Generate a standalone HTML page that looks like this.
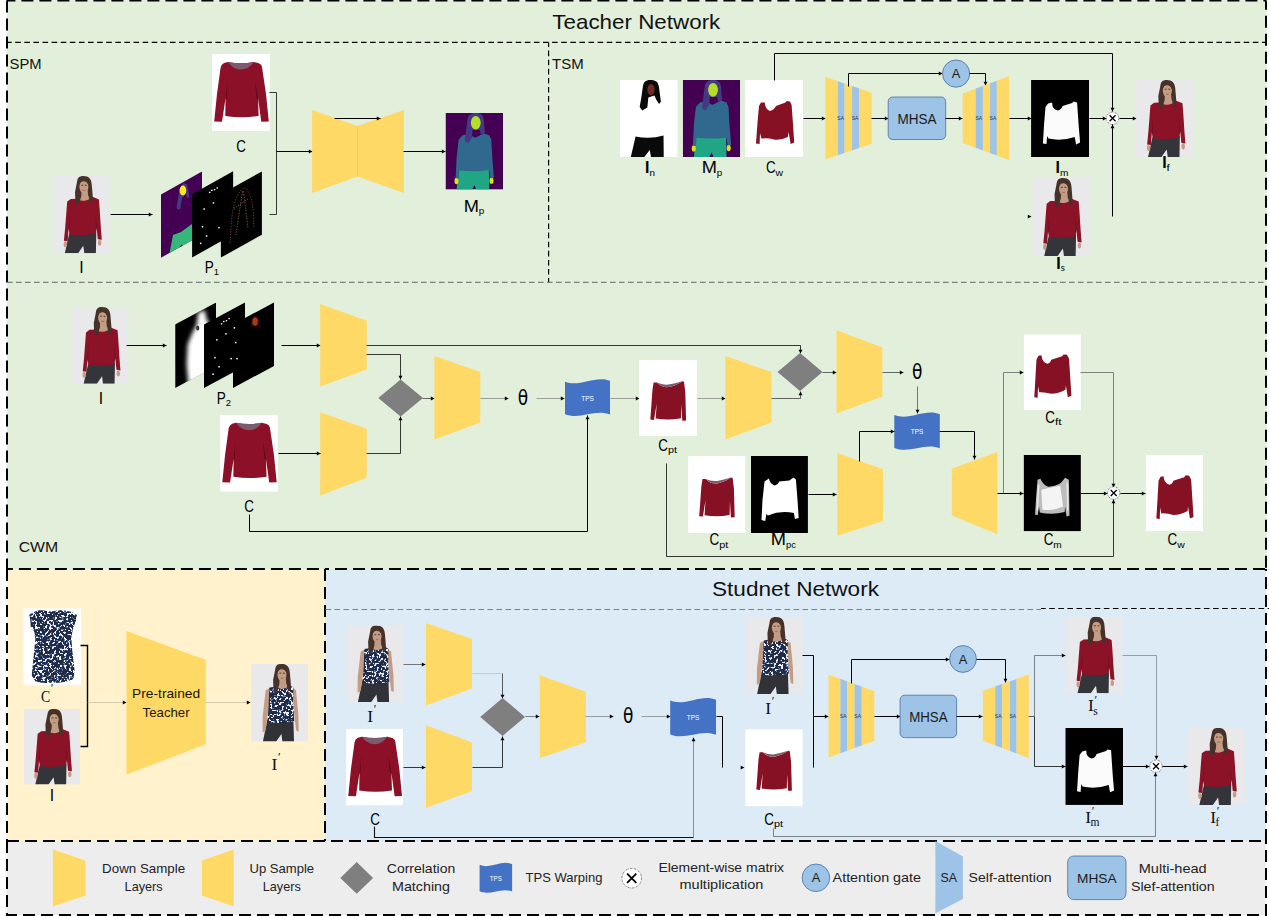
<!DOCTYPE html>
<html lang="en"><head><meta charset="utf-8"><title>Teacher / Student Network</title>
<style>html,body{margin:0;padding:0;background:#fff}body{width:1269px;height:916px;overflow:hidden}svg{display:block}text{white-space:pre}</style>
</head><body>
<svg width="1269" height="916" viewBox="0 0 1269 916">
<defs>
<pattern id="speck" width="6" height="6" patternUnits="userSpaceOnUse">
<rect width="6" height="6" fill="#2a3650"/>
<rect x="0.4" y="0.6" width="1.7" height="1.2" fill="#eef1f7"/>
<rect x="3.2" y="1.8" width="1.3" height="1.5" fill="#8aa5cc"/>
<rect x="1.4" y="3.5" width="1.8" height="1.3" fill="#e6ebf3"/>
<rect x="4.4" y="4.2" width="1.3" height="1.3" fill="#c6d0e3"/>
<rect x="4.6" y="0.2" width="1.1" height="1.1" fill="#6685b5"/>
<rect x="0.1" y="4.9" width="1.1" height="0.9" fill="#9486b0"/>
<rect x="2.6" y="5.2" width="1" height="0.7" fill="#dfe5ef"/>
</pattern>
<filter id="flor" x="0" y="0" width="100%" height="100%" color-interpolation-filters="sRGB">
<feTurbulence type="fractalNoise" baseFrequency="0.42" numOctaves="2" seed="7" result="n"/>
<feColorMatrix in="n" type="matrix" values="1 0 0 0 0  1 0 0 0 0  1 0 0 0 0  0 0 0 0 1" result="g"/>
<feComponentTransfer in="g" result="c">
<feFuncR type="discrete" tableValues="0.13 0.13 0.13 0.13 0.13 0.13 0.13 0.13 0.13 0.13 0.14 0.38 0.93 0.93 0.93 0.93 0.93 0.93 0.93 0.93"/>
<feFuncG type="discrete" tableValues="0.17 0.17 0.17 0.17 0.17 0.17 0.17 0.17 0.17 0.17 0.18 0.48 0.94 0.94 0.94 0.94 0.94 0.94 0.94 0.94"/>
<feFuncB type="discrete" tableValues="0.27 0.27 0.27 0.27 0.27 0.27 0.27 0.27 0.27 0.27 0.28 0.70 0.97 0.97 0.97 0.97 0.97 0.97 0.97 0.97"/>
</feComponentTransfer>
<feComposite in="c" in2="SourceGraphic" operator="in"/>
</filter>
<filter id="blur2" x="-20%" y="-20%" width="140%" height="140%"><feGaussianBlur stdDeviation="2.2"/></filter>
<filter id="blur1" x="-20%" y="-20%" width="140%" height="140%"><feGaussianBlur stdDeviation="0.5"/></filter>

<symbol id="person" viewBox="0 0 57 77" preserveAspectRatio="none">
<rect width="57" height="77" fill="#e9e8ea"/>
<path d="M16.3,57 L43.3,56 L42.9,77 L31.3,77 L30.3,69.5 L25.1,77 L11.8,77 Z" fill="#34353a"/>
<ellipse cx="12.4" cy="68" rx="1.7" ry="3" fill="#c39c84"/>
<ellipse cx="46.6" cy="66.6" rx="1.7" ry="3" fill="#c39c84"/>
<path d="M17.8,22.8 L24.6,22.6 L39.6,20.7 L45.9,23.3 L46.6,32 L47.9,52.4 L48.8,63.6 L44.8,63 L43.6,51 L42.9,57.4 Q30,60.5 16.6,58.2 L15.6,52 L14.7,65 L10.9,64.5 L12.1,52.4 L13.7,31.6 L14.2,25.4 Z" fill="#8c1227"/>
<path d="M15.6,52 L16.6,36 L16.2,58 Z M43.6,51 L42.6,36 L43,57 Z" fill="#6a0c1c"/>
<path d="M24.6,22.9 Q32,27.5 39.6,20.7 L36,19 L27,20 Z" fill="#c39c84"/>
<path d="M30.3,0 C26,0 24.4,2 24,6 L22,16 L22.4,26.5 L24.3,29.6 L26.6,26 L28,21 L34,21 L35.6,20 L36.8,27.4 L39.4,26 L39.8,21 L38.8,9 C38.4,3 36,0 30.3,0 Z" fill="#46322a"/>
<path d="M28.6,14 L34.6,14 L35.4,22 Q32,25.6 28,23.6 Z" fill="#c39c84"/>
<ellipse cx="30.9" cy="10.4" rx="4.5" ry="6.7" fill="#c39c84"/>
<path d="M26,10 C26,4.4 28,2.4 30.6,2.4 C34,2.4 35.7,4.4 35.8,10 C34.6,6.4 32.6,5.2 30.6,5.2 C28.6,5.2 27,6.4 26,10 Z" fill="#46322a"/>
<path d="M28.2,9.3 L30.2,9.1 M31.8,9.1 L33.8,9.3" stroke="#3a2820" stroke-width="0.8"/>
<path d="M29.6,14.2 L32.2,14.2" stroke="#9a5a50" stroke-width="0.8"/>
</symbol>

<symbol id="personF" viewBox="0 0 57 77" preserveAspectRatio="none">
<rect width="57" height="77" fill="#e9e8ea"/>
<path d="M16.3,55 L42.3,55 L42.9,77 L31.3,77 L30.3,69.5 L25.1,77 L11.8,77 Z" fill="#303238"/>
<path d="M14.6,26 L18.5,24 L18,40 L14.5,66 L11.5,68 L11.6,52 Z" fill="#c39c84"/>
<path d="M41.5,24 L44.9,26 L47.2,50 L47.6,67 L45,66 L42.5,44 Z" fill="#c39c84"/>
<path d="M18.2,23.5 L24.6,22.6 L39,21.2 L42.3,23.6 L42,38 L43.2,56.5 Q30,60 16.4,57.4 L17.6,40 Z" fill="#2a3650" filter="url(#flor)"/>
<path d="M24.6,22.9 Q32,27 39,21.2 L36,19 L27,20 Z" fill="#c39c84"/>
<path d="M30.3,0 C26,0 24.4,2 24,6 L22,16 L22.4,26.5 L24.3,29.6 L26.6,26 L28,21 L34,21 L35.6,20 L36.8,27.4 L39.4,26 L39.8,21 L38.8,9 C38.4,3 36,0 30.3,0 Z" fill="#46322a"/>
<path d="M28.6,14 L34.6,14 L35.4,22 Q32,25.6 28,23.6 Z" fill="#c39c84"/>
<ellipse cx="30.9" cy="10.4" rx="4.5" ry="6.7" fill="#c39c84"/>
<path d="M26,10 C26,4.4 28,2.4 30.6,2.4 C34,2.4 35.7,4.4 35.8,10 C34.6,6.4 32.6,5.2 30.6,5.2 C28.6,5.2 27,6.4 26,10 Z" fill="#46322a"/>
<path d="M28.2,9.3 L30.2,9.1 M31.8,9.1 L33.8,9.3" stroke="#3a2820" stroke-width="0.8"/>
<path d="M29.6,14.2 L32.2,14.2" stroke="#9a5a50" stroke-width="0.8"/>
</symbol>

<symbol id="cloth" viewBox="0 0 58 77" preserveAspectRatio="none">
<rect width="58" height="77" fill="#fff"/>
<path d="M16,8 Q29,10.5 41.7,8 L46,9 Q49.5,10 50,13 L54,40 L56.8,67.5 L49.3,67.8 L46,44 L46.6,62 Q30,64.5 13.3,62 L13.6,44 L10,67.8 L2.2,67.5 L5,40 L8.6,13.5 Q9,10.5 12,9 Z" fill="#8c1027"/>
<path d="M16,8 Q29,10.5 41.7,8 Q37,15.5 29,15.5 Q21,15.5 16,8 Z" fill="#7d5a6e"/>
<path d="M13.6,44 L15.5,27 L14.6,45 Z M46,44 L43,27 L44.6,45 Z" fill="#5e0a18"/>
</symbol>

<symbol id="floral" viewBox="0 0 57 77" preserveAspectRatio="none">
<rect width="57" height="77" fill="#fff"/>
<path d="M16.7,1.9 L27,3.2 L38,1.9 L47,3.6 L52.9,6.5 L52,12.5 L49.2,20 L47.4,29.2 L48.3,41.3 L50.6,61.7 L50,69 L48.3,71.5 Q38,75.5 28,74.5 Q18,75.5 12,73 L8.4,67.3 L10.2,48.7 L12,31 L11.1,23.7 L7.4,18 L6.8,11 L6,6.5 L11,3.6 Z" fill="#2a3650" filter="url(#flor)"/>
</symbol>

<symbol id="warp" viewBox="0 0 58 77" preserveAspectRatio="none">
<rect width="58" height="77" fill="#fff"/>
<path d="M19.7,22.5 Q20,29 25,31 Q29,30 31,26 L40.5,22.6 L41.5,21 L45,21.6 L46.6,25 L48,44 L49.2,62.6 L45.6,64 L43.6,52 L42.8,57 Q36,60.5 29,59.5 Q22,57.5 16.4,58.6 L15,53 L14.6,64 L11,63.4 L12.4,44 L14,26 L16,22.6 Z" fill="#861024"/>
</symbol>

<symbol id="warp2" viewBox="0 0 58 77" preserveAspectRatio="none">
<rect width="58" height="77" fill="#fff"/>
<path d="M18,21.5 Q19,29 24,30 Q27,29.5 28,26 L39,22.5 L40.5,20.5 L44,21 L46,25 L47.2,44 L48.4,62.6 L44.8,64 L42.8,52 L42.4,56.5 Q35,60.5 28,60.5 Q21,58.5 15.8,59 L14.6,53 L14.2,64.6 L10.8,64 L12,44 L13,26 L15,22 Z" fill="#861024"/>
</symbol>

<symbol id="warpS" viewBox="0 0 58 77" preserveAspectRatio="none">
<rect width="58" height="77" fill="#fff"/>
<path d="M14.5,23 L17.7,23 Q23,28.4 29.4,27.4 Q37,26 43.2,21.5 L44.9,22 L46.2,32.6 L47,61.3 L43.2,61.4 L42.2,45 L41.9,59 Q29,61.4 16.6,59.2 L17.6,44 L14.9,60.6 L11.2,60.2 L12.4,44 L13.4,30 Z" fill="#861024"/>
<path d="M17.7,23 Q23,28.4 29.4,27.4 Q37,26 43.2,21.5 Q36,23.6 29.4,25 Q23,25.6 17.7,23 Z" fill="#7d5a6e"/>
</symbol>

<symbol id="mask" viewBox="0 0 58 77" preserveAspectRatio="none">
<rect width="58" height="77" fill="#000"/>
<path d="M17,23.5 L21,22.6 Q21,29.5 26.5,30.6 Q30.5,29.5 31.5,26 L41,23 L42.5,21.5 L46,22.4 L47.6,46 L49,62.6 L45,64.4 L43.6,57 Q30,61.5 17.4,58.6 L16,56 L15.4,64 L11.8,63.4 L13,44 L14.4,27 Z" fill="#fbfbfb"/>
</symbol>

<symbol id="maskS" viewBox="0 0 57 77" preserveAspectRatio="none">
<rect width="57" height="77" fill="#000"/>
<path d="M13.6,25.5 L18,22.4 Q19,28 24,29.4 Q27.5,28.4 28.4,25.4 L38.5,24.4 L42.6,21.6 L45,23.6 L46.6,44 L47.8,62 L44,63 L43,57 Q30,54 17,59.4 L15.4,58 L14.4,65 L10.6,64 L11.6,44 Z" fill="#fff"/>
</symbol>

<symbol id="cm" viewBox="0 0 58 77" preserveAspectRatio="none">
<rect width="58" height="77" fill="#000"/>
<path d="M14.1,25 L17,24 Q20,30.6 25,32 Q33,31.6 38,28 L42,23 L45.8,25 L46.2,45 L46.4,61.4 L43.4,62 L42,52 L41.6,57.6 Q29,60.6 16.4,58 L15.6,52 L14.4,60.6 L11.6,60.2 L12.6,44 Z" fill="#bdbdbd"/>
<path d="M18,35 L24,33.6 L37,31 L40,52 Q29,57 19,55 Z" fill="#f4f4f4"/>
<path d="M14.4,30 L16,30 L14.6,56 L13,56 Z M43.4,28 L45,28 L45.4,56 L44,56 Z" fill="#e8e8e8"/>
</symbol>

<symbol id="seg" viewBox="0 0 57 77" preserveAspectRatio="none">
<rect width="57" height="77" fill="#440154"/>
<path d="M13,57 L43,57 L43.4,77 L30.4,77 L28.6,72.6 L26.4,77 L11,77 Z" fill="#21a685"/>
<ellipse cx="10.9" cy="68.4" rx="2" ry="3.2" fill="#dde318"/>
<ellipse cx="45.6" cy="68" rx="2" ry="3.2" fill="#dde318"/>
<path d="M17,22.4 L24,21 L29,25 L38,20.6 L43.4,22.4 L45.4,27 L46.4,45 L48,65 L44.6,65.6 L43.2,57.4 Q30,59.6 13.6,57.8 L13.2,66 L10,65.4 L11,45 L13,27 Z" fill="#31688e"/>
<path d="M30,0 C25,0 22,2 21.6,8 L20,20 L19,28 L22.6,30.4 L26.5,24 L27,17 L34,17 L34.8,21.6 L39,20.4 L38,7 C37.4,2 35,0 30,0 Z" fill="#443a83"/>
<path d="M27,17 L34,17 L34.8,21.8 L29.4,24.6 L26.6,22 Z" fill="#440154"/>
<ellipse cx="30" cy="9.8" rx="4.9" ry="6.9" fill="#b5de2b"/>
</symbol>

<symbol id="inimg" viewBox="0 0 57 77" preserveAspectRatio="none">
<rect width="57" height="77" fill="#fff"/>
<path d="M15.4,56.4 Q29,59.6 43,55.6 L43.2,77 L30.6,77 L29.4,70 L24,77 L10.7,77 Z" fill="#0a0a0a"/>
<path d="M30,0 C25,0 23,2 22.4,8 L21,18 L19.4,27 L22,30.4 L27,27.6 L28,17.6 L34,15.6 L36,20 L38.6,24 L40.4,21.6 L38.6,8 C38,2 35.6,0 30,0 Z" fill="#0a0a0a"/>
<ellipse cx="30.6" cy="9.6" rx="3.6" ry="5.6" fill="#6e2c22"/>
</symbol>

<!-- P1 stack : parallelogram 41 wide, left edge 22.9 lower than right, height 63.3 -->
<symbol id="p1a" viewBox="0 0 41 87" width="41" height="87" overflow="visible">
<clipPath id="cp1"><polygon points="0,22.9 41,0 41,63.3 0,86.2"/></clipPath>
<g clip-path="url(#cp1)">
<rect width="41" height="87" fill="#440154"/>
<path d="M12,63.4 L20,60.5 L31,52.4 L41,46 L41,70 L8.7,88 L8.7,80.8 Z" fill="#35b779"/>
<path d="M17.6,78.5 L20.6,72.4 L21.4,77 Z" fill="#2a0a3a"/>
<path d="M18.6,18 L22.4,11.6 L26,13 L28.4,26 L26.4,26.4 L25,22 L21,27 L19.4,37 L16.4,38.6 L15.6,35 Z" fill="#443a83"/>
<ellipse cx="21.9" cy="19" rx="3.3" ry="5" fill="#fde725"/>
</g>
</symbol>
<symbol id="p1b" viewBox="0 0 41 87" width="41" height="87" overflow="visible">
<polygon points="0,22.9 41,0 41,63.3 0,86.2" fill="#000"/>
<g fill="#fff">
<rect x="16.8" y="20.4" width="1.5" height="1.3"/><rect x="19" y="18.4" width="1.5" height="1.3"/><rect x="21.7" y="17.7" width="1.5" height="1.3"/><rect x="24.4" y="16" width="1.5" height="1.3"/>
<rect x="20.6" y="30.9" width="1.5" height="1.5"/><rect x="11.3" y="37" width="1.5" height="1.5"/>
<rect x="9.7" y="54.7" width="1.5" height="1.5"/><rect x="26.1" y="55.6" width="1.5" height="1.5"/>
<rect x="13.7" y="64" width="1.5" height="1.5"/><rect x="7.8" y="71.3" width="1.5" height="1.5"/>
</g>
</symbol>
<symbol id="p1c" viewBox="0 0 41 87" width="41" height="87" overflow="visible">
<polygon points="0,22.9 41,0 41,63.3 0,86.2" fill="#000"/>
<path d="M9,71.8 L11,45 Q14,22 23.7,16 Q31,22 32.4,40 L33,56.5" stroke="#9a4a5a" stroke-width="0.8" fill="none" stroke-dasharray="1.2 1.5"/>
<path d="M21.6,20 L15,63.6 M22.6,20 L27,55.9" stroke="#b0705a" stroke-width="0.8" fill="none" stroke-dasharray="1.2 1.5"/>
<path d="M12.8,37.4 L27,27.5" stroke="#8a8a4a" stroke-width="0.8" fill="none" stroke-dasharray="1.2 1.5"/>
</symbol>

<!-- P2 stack : 41 wide, slant 22.1, height 63.5 -->
<symbol id="p2a" viewBox="0 0 41 87" width="41" height="87" overflow="visible">
<clipPath id="cp2"><polygon points="0,22.1 41,0 41,63.5 0,85.6"/></clipPath>
<g clip-path="url(#cp2)">
<rect width="41" height="87" fill="#000"/>
<path d="M23,10 L29.6,7.6 L31.6,17 L37,26 L41,30 L41,90 L14,90 L11.5,62 L12.5,42 L17,31 L21.6,22 Z" fill="#fff" filter="url(#blur2)"/>
<path d="M18,38 L41,38 L41,80 L16,80 Z" fill="#fff" filter="url(#blur1)"/>
<ellipse cx="22.6" cy="25.6" rx="1.6" ry="2.6" fill="#333" filter="url(#blur1)"/>
</g>
</symbol>
<symbol id="p2b" viewBox="0 0 41 87" width="41" height="87" overflow="visible">
<polygon points="0,22.1 41,0 41,63.5 0,85.6" fill="#000"/>
<g fill="#fff">
<rect x="16.8" y="20.8" width="1.5" height="1.3"/><rect x="19" y="18.5" width="1.5" height="1.3"/><rect x="21.7" y="17.7" width="1.5" height="1.3"/><rect x="24.4" y="15.5" width="1.5" height="1.3"/>
<rect x="29.6" y="24.7" width="1.5" height="1.5"/><rect x="21.2" y="30.7" width="1.5" height="1.5"/><rect x="12.1" y="36.7" width="1.5" height="1.5"/><rect x="31" y="39.4" width="1.5" height="1.5"/>
<rect x="10.2" y="54.5" width="1.5" height="1.5"/><rect x="26.4" y="55.5" width="1.5" height="1.5"/><rect x="32.3" y="55.5" width="1.5" height="1.5"/>
<rect x="14.3" y="63.6" width="1.5" height="1.5"/><rect x="8.3" y="71.1" width="1.5" height="1.5"/>
</g>
</symbol>
<symbol id="p2c" viewBox="0 0 41 87" width="41" height="87" overflow="visible">
<polygon points="0,22.1 41,0 41,63.5 0,85.6" fill="#000"/>
<path d="M17.6,26 Q18,13.6 22.4,13.4 Q26.6,13.6 27.4,27 L25,24 L19.6,24 Z" fill="#2a0a05" filter="url(#blur1)"/>
<ellipse cx="22.1" cy="19.3" rx="2.7" ry="4.1" fill="#a83a18" filter="url(#blur1)"/>
<g fill="#fff"><rect x="0.6" y="24.7" width="1.5" height="1.5"/><rect x="2" y="39.4" width="1.5" height="1.5"/><rect x="3.3" y="55.5" width="1.5" height="1.5"/></g>
</symbol>

</defs>
<rect x="0" y="0" width="1269" height="916" fill="#fff"/>
<rect x="7" y="0" width="1259.6" height="569" fill="#E2EFDA"/>
<rect x="7" y="569" width="318" height="272" fill="#FFF2CC"/>
<rect x="325" y="569" width="941" height="272" fill="#DDEBF7"/>
<rect x="7" y="841" width="1259" height="74" fill="#EDEDED"/>
<path d="M1266,0.6 L7,0.6" stroke-dashoffset="9.4" stroke="#000" stroke-width="2" fill="none" stroke-dasharray="12 6"/>
<path d="M7,0.6 L7,569" stroke="#000" stroke-width="2" fill="none" stroke-dasharray="12 6"/>
<path d="M1266,0.6 L1266,569" stroke-dashoffset="2.8" stroke="#000" stroke-width="2" fill="none" stroke-dasharray="12 6"/>
<path d="M7,569 L325,569" stroke-dashoffset="6.1" stroke="#000" stroke-width="2" fill="none" stroke-dasharray="12 6"/>
<path d="M325,569 L1266,569" stroke-dashoffset="8" stroke="#000" stroke-width="2" fill="none" stroke-dasharray="12 6"/>
<path d="M7,569 L7,841" stroke="#000" stroke-width="2" fill="none" stroke-dasharray="12 6"/>
<path d="M325,569 L325,841" stroke="#000" stroke-width="2" fill="none" stroke-dasharray="12 6"/>
<path d="M1266,569 L1266,841" stroke-dashoffset="10" stroke="#000" stroke-width="2" fill="none" stroke-dasharray="12 6"/>
<path d="M7,841 L1266,841" stroke="#000" stroke-width="2" fill="none" stroke-dasharray="12 6"/>
<path d="M7,841 L7,915 L1266,915 L1266,841" stroke="#000" stroke-width="2" fill="none" stroke-dasharray="12 6"/>
<path d="M7,42.4 L1266,42.4" stroke="#000" stroke-width="1.2" fill="none" stroke-dasharray="5.6 3.5" stroke-dashoffset="0.9"/>
<path d="M548.6,42.4 L548.6,282.4" stroke="#000" stroke-width="1.2" fill="none" stroke-dasharray="5.6 3.5" stroke-dashoffset="0.9"/>
<path d="M7,282.4 L1266,282.4" stroke="#7f7f7f" stroke-width="1.1" fill="none" stroke-dasharray="5.6 3.4"/>
<path d="M325.5,609.5 L1041,609.5" stroke="#7f7f7f" stroke-width="1.1" fill="none" stroke-dasharray="5.6 3.4"/>
<path d="M1041,608.5 L1269,608.5" stroke="#000" stroke-width="1.2" fill="none" stroke-dasharray="5.6 3.5" stroke-dashoffset="0.9"/>
<text x="636.3" y="29.3" font-size="20.9" text-anchor="middle" font-family='"Liberation Sans", "DejaVu Sans", sans-serif' fill="#111" textLength="168" lengthAdjust="spacingAndGlyphs" >Teacher Network</text>
<text x="795.5" y="596.4" font-size="20.9" text-anchor="middle" font-family='"Liberation Sans", "DejaVu Sans", sans-serif' fill="#111" textLength="167" lengthAdjust="spacingAndGlyphs" >Studnet Network</text>
<text x="9.6" y="68.6" font-size="14.8" text-anchor="start" font-family='"Liberation Sans", "DejaVu Sans", sans-serif' fill="#111" textLength="32" lengthAdjust="spacingAndGlyphs" >SPM</text>
<text x="552" y="68.6" font-size="14.8" text-anchor="start" font-family='"Liberation Sans", "DejaVu Sans", sans-serif' fill="#111" textLength="31.6" lengthAdjust="spacingAndGlyphs" >TSM</text>
<text x="18.7" y="552.3" font-size="14.8" text-anchor="start" font-family='"Liberation Sans", "DejaVu Sans", sans-serif' fill="#111" textLength="39.5" lengthAdjust="spacingAndGlyphs" >CWM</text>
<use href="#cloth" x="212" y="54" width="58" height="77"/>
<text x="236.15" y="151.8" font-size="16" font-family='"Liberation Sans", "DejaVu Sans", sans-serif' fill="#000" textLength="9.7" lengthAdjust="spacingAndGlyphs">C</text>
<use href="#person" x="53" y="176" width="57" height="77.3"/>
<text x="79.3" y="272.9" font-size="16" font-family='"Liberation Sans", "DejaVu Sans", sans-serif' fill="#000" textLength="4.4" lengthAdjust="spacingAndGlyphs">I</text>
<use href="#p1a" x="161" y="171.5"/>
<use href="#p1b" x="192.1" y="171.3"/>
<use href="#p1c" x="220.9" y="171.4"/>
<text x="204.85" y="272.9" font-size="16" font-family='"Liberation Sans", "DejaVu Sans", sans-serif' fill="#000" textLength="9" lengthAdjust="spacingAndGlyphs">P</text>
<text x="213.85" y="275.4" font-size="9.8" font-family='"Liberation Sans", "DejaVu Sans", sans-serif' fill="#000" textLength="5.3" lengthAdjust="spacingAndGlyphs">1</text>
<polyline points="110.5,214.5 152.5,214.5" fill="none" stroke="#000" stroke-width="1"/>
<polygon points="152.5,214.5 148.8,212.55 148.8,216.45" fill="#000" />
<polyline points="269.5,92.5 276.5,92.5 276.5,214.5 269.5,214.5" fill="none" stroke="#222" stroke-width="0.9"/>
<polyline points="276.5,151.5 312.5,151.5" fill="none" stroke="#000" stroke-width="1"/>
<polygon points="312.5,151.5 308.8,149.55 308.8,153.45" fill="#000" />
<polygon points="312.1,110 357.5,126 357.5,176.5 312.1,193" fill="#FFD966" />
<polygon points="357.5,126 403.9,110 403.9,193 357.5,176.5" fill="#FFD966" />
<line x1="357.5" y1="126" x2="357.5" y2="176.5" stroke="#d8c27a" stroke-width="0.6"/>
<polyline points="334.5,118.5 380.5,118.5" fill="none" stroke="#000" stroke-width="1"/>
<polygon points="380.5,118.5 376.8,116.55 376.8,120.45" fill="#000" />
<polyline points="403.5,151.5 445.5,151.5" fill="none" stroke="#000" stroke-width="1"/>
<polygon points="445.5,151.5 441.8,149.55 441.8,153.45" fill="#000" />
<use href="#seg" x="445.5" y="113" width="57.5" height="76.6"/>
<text x="463.65" y="211.8" font-size="16" font-family='"Liberation Sans", "DejaVu Sans", sans-serif' fill="#000" textLength="15.2" lengthAdjust="spacingAndGlyphs">M</text>
<text x="478.85" y="214.3" font-size="9.8" font-family='"Liberation Sans", "DejaVu Sans", sans-serif' fill="#000" textLength="5.5" lengthAdjust="spacingAndGlyphs">p</text>
<use href="#inimg" x="620" y="80" width="57.7" height="77"/>
<use href="#seg" x="682.8" y="80" width="57.4" height="77"/>
<use href="#warp" x="745" y="80" width="58" height="77"/>
<text x="645.05" y="173.3" font-size="16" font-family='"Liberation Sans", "DejaVu Sans", sans-serif' fill="#000" font-weight="bold" textLength="4.4" lengthAdjust="spacingAndGlyphs">I</text>
<text x="649.45" y="175.8" font-size="9.8" font-family='"Liberation Sans", "DejaVu Sans", sans-serif' fill="#000" textLength="5.5" lengthAdjust="spacingAndGlyphs">n</text>
<text x="701.65" y="173.3" font-size="16" font-family='"Liberation Sans", "DejaVu Sans", sans-serif' fill="#000" textLength="15.2" lengthAdjust="spacingAndGlyphs">M</text>
<text x="716.85" y="175.8" font-size="9.8" font-family='"Liberation Sans", "DejaVu Sans", sans-serif' fill="#000" textLength="5.5" lengthAdjust="spacingAndGlyphs">p</text>
<text x="765.9" y="173.3" font-size="16" font-family='"Liberation Sans", "DejaVu Sans", sans-serif' fill="#000" textLength="9.7" lengthAdjust="spacingAndGlyphs">C</text>
<text x="775.6" y="175.8" font-size="9.8" font-family='"Liberation Sans", "DejaVu Sans", sans-serif' fill="#000" textLength="7.5" lengthAdjust="spacingAndGlyphs">w</text>
<polyline points="774.5,80.5 774.5,53.5 1112.5,53.5 1112.5,111.5" fill="none" stroke="#000" stroke-width="1"/>
<polygon points="1112.5,111.5 1110.55,107.8 1114.45,107.8" fill="#000" />
<polyline points="803.5,118.5 825.5,118.5" fill="none" stroke="#000" stroke-width="1"/>
<polygon points="825.5,118.5 821.8,116.55 821.8,120.45" fill="#000" />
<clipPath id="c1"><polygon points="825.2,77 871.8,92.8 871.8,143.7 825.2,159.6"/></clipPath>
<g clip-path="url(#c1)">
<rect x="825.2" y="76" width="12.6" height="84.6" fill="#FFD966"/>
<rect x="837.8" y="76" width="6.8" height="84.6" fill="#9DC3E6"/>
<rect x="844.6" y="76" width="7.5" height="84.6" fill="#FFD966"/>
<rect x="852.1" y="76" width="6.9" height="84.6" fill="#9DC3E6"/>
<rect x="859" y="76" width="12.8" height="84.6" fill="#FFD966"/>
</g>
<text x="840.7" y="120.28" font-size="5" text-anchor="middle" font-family='"Liberation Sans", "DejaVu Sans", sans-serif' fill="#333" >SA</text>
<text x="855.05" y="120.28" font-size="5" text-anchor="middle" font-family='"Liberation Sans", "DejaVu Sans", sans-serif' fill="#333" >SA</text>
<polyline points="848.5,86.5 848.5,73.5 942.5,73.5" fill="none" stroke="#000" stroke-width="1"/>
<polygon points="942.5,73.5 938.8,71.55 938.8,75.45" fill="#000" />
<circle cx="956.1" cy="73.6" r="13.6" fill="#9DC3E6" stroke="#4a6fa0" stroke-width="0.8"/>
<text x="956.1" y="78.21" font-size="12.8" text-anchor="middle" font-family='"Liberation Sans", "DejaVu Sans", sans-serif' fill="#1a1a1a" >A</text>
<polyline points="969.5,73.5 985.5,73.5 985.5,85.5" fill="none" stroke="#000" stroke-width="1"/>
<polygon points="985.5,85.5 983.55,81.8 987.45,81.8" fill="#000" />
<polyline points="871.5,118.5 888.5,118.5" fill="none" stroke="#000" stroke-width="1"/>
<polygon points="888.5,118.5 884.8,116.55 884.8,120.45" fill="#000" />
<rect x="888.2" y="97" width="57.5" height="42.5" rx="4.5" fill="#9DC3E6" stroke="#4a6fa0" stroke-width="0.8"/>
<text x="916.95" y="123.83" font-size="15.5" text-anchor="middle" font-family='"Liberation Sans", "DejaVu Sans", sans-serif' fill="#1a1a1a" textLength="39.1" lengthAdjust="spacingAndGlyphs" >MHSA</text>
<polyline points="945.5,118.5 962.5,118.5" fill="none" stroke="#000" stroke-width="1"/>
<polygon points="962.5,118.5 958.8,116.55 958.8,120.45" fill="#000" />
<clipPath id="c2"><polygon points="962.5,93.6 1009,76.2 1009,160 962.5,143"/></clipPath>
<g clip-path="url(#c2)">
<rect x="962.5" y="75.2" width="13.1" height="85.8" fill="#FFD966"/>
<rect x="975.6" y="75.2" width="7.3" height="85.8" fill="#9DC3E6"/>
<rect x="982.9" y="75.2" width="7.2" height="85.8" fill="#FFD966"/>
<rect x="990.1" y="75.2" width="6.7" height="85.8" fill="#9DC3E6"/>
<rect x="996.8" y="75.2" width="12.2" height="85.8" fill="#FFD966"/>
</g>
<text x="978.75" y="120.2" font-size="5" text-anchor="middle" font-family='"Liberation Sans", "DejaVu Sans", sans-serif' fill="#333" >SA</text>
<text x="992.95" y="120.2" font-size="5" text-anchor="middle" font-family='"Liberation Sans", "DejaVu Sans", sans-serif' fill="#333" >SA</text>
<polyline points="1009.5,118.5 1031.5,118.5" fill="none" stroke="#000" stroke-width="1"/>
<polygon points="1031.5,118.5 1027.8,116.55 1027.8,120.45" fill="#000" />
<use href="#mask" x="1031.1" y="80" width="58" height="77"/>
<polyline points="1089.5,118.5 1106.5,118.5" fill="none" stroke="#000" stroke-width="1"/>
<polygon points="1106.5,118.5 1102.8,116.55 1102.8,120.45" fill="#000" />
<circle cx="1112.6" cy="118.3" r="6.2" fill="#fff" stroke="#333" stroke-width="0.6" stroke-dasharray="2 0.9 0.6 0.9"/>
<path d="M1109.6,115.3 L1115.6,121.3 M1109.6,121.3 L1115.6,115.3" stroke="#000" stroke-width="1.3" fill="none"/>
<polyline points="1119.5,118.5 1136.5,118.5" fill="none" stroke="#000" stroke-width="1"/>
<polygon points="1136.5,118.5 1132.8,116.55 1132.8,120.45" fill="#000" />
<use href="#person" x="1136.1" y="80" width="57.6" height="77"/>
<polyline points="1112.5,216.5 1112.5,124.5" fill="none" stroke="#000" stroke-width="1"/>
<polygon points="1112.5,124.5 1110.55,128.2 1114.45,128.2" fill="#000" />
<polygon points="1031.5,216.6 1027.8,214.65 1027.8,218.55" fill="#000" />
<use href="#person" x="1032.3" y="178" width="57.6" height="78"/>
<text x="1055.6" y="173.2" font-size="16" font-family='"Liberation Sans", "DejaVu Sans", sans-serif' fill="#000" font-weight="bold" textLength="4.4" lengthAdjust="spacingAndGlyphs">I</text>
<text x="1060" y="175.7" font-size="9.8" font-family='"Liberation Sans", "DejaVu Sans", sans-serif' fill="#000" textLength="8.4" lengthAdjust="spacingAndGlyphs">m</text>
<text x="1162.2" y="168.4" font-size="16" font-family='"Liberation Sans", "DejaVu Sans", sans-serif' fill="#000" font-weight="bold" textLength="4.4" lengthAdjust="spacingAndGlyphs">I</text>
<text x="1166.6" y="170.9" font-size="9.8" font-family='"Liberation Sans", "DejaVu Sans", sans-serif' fill="#000" textLength="3.2" lengthAdjust="spacingAndGlyphs">f</text>
<text x="1056.35" y="268.5" font-size="16" font-family='"Liberation Sans", "DejaVu Sans", sans-serif' fill="#000" font-weight="bold" textLength="4.4" lengthAdjust="spacingAndGlyphs">I</text>
<text x="1060.75" y="271" font-size="9.8" font-family='"Liberation Sans", "DejaVu Sans", sans-serif' fill="#000" textLength="4.1" lengthAdjust="spacingAndGlyphs">s</text>
<use href="#person" x="71.9" y="307.1" width="56.7" height="76.7"/>
<text x="98.7" y="404" font-size="16" font-family='"Liberation Sans", "DejaVu Sans", sans-serif' fill="#000" textLength="4.4" lengthAdjust="spacingAndGlyphs">I</text>
<polyline points="126.5,345.5 166.5,345.5" fill="none" stroke="#000" stroke-width="1"/>
<polygon points="166.5,345.5 162.8,343.55 162.8,347.45" fill="#000" />
<use href="#p2a" x="175.1" y="302.4"/>
<use href="#p2b" x="204" y="302.4"/>
<use href="#p2c" x="233" y="302.4"/>
<text x="216.85" y="403.8" font-size="16" font-family='"Liberation Sans", "DejaVu Sans", sans-serif' fill="#000" textLength="9" lengthAdjust="spacingAndGlyphs">P</text>
<text x="225.85" y="406.3" font-size="9.8" font-family='"Liberation Sans", "DejaVu Sans", sans-serif' fill="#000" textLength="5.3" lengthAdjust="spacingAndGlyphs">2</text>
<polyline points="281.5,345.5 320.5,345.5" fill="none" stroke="#000" stroke-width="1"/>
<polygon points="320.5,345.5 316.8,343.55 316.8,347.45" fill="#000" />
<polygon points="320.2,303.9 366.8,320.8 366.8,369.4 320.2,386.6" fill="#FFD966" />
<polygon points="320.2,412.3 366.8,428.7 366.8,477.8 320.2,495.5" fill="#FFD966" />
<use href="#cloth" x="220.1" y="414.8" width="57.8" height="77"/>
<text x="244.15" y="511.7" font-size="16" font-family='"Liberation Sans", "DejaVu Sans", sans-serif' fill="#000" textLength="9.7" lengthAdjust="spacingAndGlyphs">C</text>
<polyline points="278.5,453.5 320.5,453.5" fill="none" stroke="#000" stroke-width="1"/>
<polygon points="320.5,453.5 316.8,451.55 316.8,455.45" fill="#000" />
<polyline points="366.5,345.5 800.5,345.5 800.5,353.5" fill="none" stroke="#222" stroke-width="0.9"/>
<polygon points="800.5,353.5 798.55,349.8 802.45,349.8" fill="#000" />
<polyline points="366.5,354.5 400.5,354.5 400.5,379.5" fill="none" stroke="#222" stroke-width="0.9"/>
<polygon points="400.5,379.5 398.55,375.8 402.45,375.8" fill="#000" />
<polyline points="366.5,453.5 400.5,453.5 400.5,416.5" fill="none" stroke="#222" stroke-width="0.9"/>
<polygon points="400.5,416.5 398.55,420.2 402.45,420.2" fill="#000" />
<polygon points="378.3,398 400.6,379.4 422.9,398 400.6,416.6" fill="#7F7F7F" />
<polyline points="422.5,398.5 434.5,398.5" fill="none" stroke="#444" stroke-width="0.8"/>
<polygon points="434.5,398.5 430.8,396.55 430.8,400.45" fill="#000" />
<polygon points="434.4,356 480.3,372 480.3,422.4 434.4,439.5" fill="#FFD966" />
<polyline points="480.5,398.5 508.5,398.5" fill="none" stroke="#6a6a6a" stroke-width="0.6"/>
<polygon points="508.5,398.5 504.8,396.55 504.8,400.45" fill="#000" />
<text x="517.7" y="404.8" font-size="21" font-family='"DejaVu Sans", "Liberation Sans", sans-serif' fill="#000" textLength="10.4" lengthAdjust="spacingAndGlyphs">θ</text>
<polyline points="536.5,398.5 564.5,398.5" fill="none" stroke="#6a6a6a" stroke-width="0.6"/>
<polygon points="564.5,398.5 560.8,396.55 560.8,400.45" fill="#000" />
<path d="M565,381.7 C580,387.7 595,374.8 610,380.8 L610,414.5 C595,408.5 580,420.2 565,414.2 Z" fill="#4472C4"/>
<text x="587.5" y="400.73" font-size="8" text-anchor="middle" font-family='"Liberation Sans", "DejaVu Sans", sans-serif' fill="#fff" textLength="12.6" lengthAdjust="spacingAndGlyphs" >TPS</text>
<polyline points="249.5,514.5 249.5,531.5 587.5,531.5 587.5,415.5" fill="none" stroke="#000" stroke-width="1"/>
<polygon points="587.5,415.5 585.55,419.2 589.45,419.2" fill="#000" />
<polyline points="610.5,398.5 639.5,398.5" fill="none" stroke="#6a6a6a" stroke-width="0.6"/>
<polygon points="639.5,398.5 635.8,396.55 635.8,400.45" fill="#000" />
<use href="#warpS" x="639.1" y="359.8" width="58" height="76.4"/>
<text x="658.25" y="450.7" font-size="16" font-family='"Liberation Sans", "DejaVu Sans", sans-serif' fill="#000" textLength="9.7" lengthAdjust="spacingAndGlyphs">C</text>
<text x="667.95" y="453.2" font-size="9.8" font-family='"Liberation Sans", "DejaVu Sans", sans-serif' fill="#000" textLength="9" lengthAdjust="spacingAndGlyphs">pt</text>
<polyline points="697.5,398.5 725.5,398.5" fill="none" stroke="#6a6a6a" stroke-width="0.6"/>
<polygon points="725.5,398.5 721.8,396.55 721.8,400.45" fill="#000" />
<polygon points="725.3,356 771.5,372 771.5,422.4 725.3,439.5" fill="#FFD966" />
<polyline points="771.5,398.5 800.5,398.5 800.5,391.5" fill="none" stroke="#444" stroke-width="0.8"/>
<polygon points="800.5,391.5 798.55,395.2 802.45,395.2" fill="#000" />
<polygon points="777.5,372 800,353 822.5,372 800,391" fill="#7F7F7F" />
<polyline points="822.5,372.5 836.5,372.5" fill="none" stroke="#444" stroke-width="0.8"/>
<polygon points="836.5,372.5 832.8,370.55 832.8,374.45" fill="#000" />
<polygon points="836.5,330.3 882.4,347.5 882.4,396.4 836.5,413.6" fill="#FFD966" />
<polyline points="882.5,372.5 903.5,372.5" fill="none" stroke="#444" stroke-width="0.8"/>
<polygon points="903.5,372.5 899.8,370.55 899.8,374.45" fill="#000" />
<text x="912.1" y="378.6" font-size="21" font-family='"DejaVu Sans", "Liberation Sans", sans-serif' fill="#000" textLength="10.4" lengthAdjust="spacingAndGlyphs">θ</text>
<polyline points="917.5,386.5 917.5,413.5" fill="none" stroke="#444" stroke-width="0.7"/>
<polygon points="917.5,413.5 915.55,409.8 919.45,409.8" fill="#000" />
<path d="M894.3,415.04 C909.47,421.14 924.63,408.03 939.8,414.13 L939.8,448.37 C924.63,442.27 909.47,454.16 894.3,448.06 Z" fill="#4472C4"/>
<text x="917.05" y="434.33" font-size="8" text-anchor="middle" font-family='"Liberation Sans", "DejaVu Sans", sans-serif' fill="#fff" textLength="12.6" lengthAdjust="spacingAndGlyphs" >TPS</text>
<use href="#warpS" x="688.1" y="456" width="57.5" height="77"/>
<use href="#maskS" x="750.9" y="456" width="57" height="77"/>
<text x="709.45" y="545" font-size="16" font-family='"Liberation Sans", "DejaVu Sans", sans-serif' fill="#000" textLength="9.7" lengthAdjust="spacingAndGlyphs">C</text>
<text x="719.15" y="547.5" font-size="9.8" font-family='"Liberation Sans", "DejaVu Sans", sans-serif' fill="#000" textLength="9" lengthAdjust="spacingAndGlyphs">pt</text>
<text x="770.85" y="545" font-size="16" font-family='"Liberation Sans", "DejaVu Sans", sans-serif' fill="#000" textLength="15.2" lengthAdjust="spacingAndGlyphs">M</text>
<text x="786.05" y="547.5" font-size="9.8" font-family='"Liberation Sans", "DejaVu Sans", sans-serif' fill="#000" textLength="9.9" lengthAdjust="spacingAndGlyphs">pc</text>
<polyline points="808.5,494.5 836.5,494.5" fill="none" stroke="#000" stroke-width="1"/>
<polygon points="836.5,494.5 832.8,492.55 832.8,496.45" fill="#000" />
<polygon points="837.3,453 883,469.3 883,521 837.3,535.7" fill="#FFD966" />
<polyline points="859.5,461.5 859.5,431.5 894.5,431.5" fill="none" stroke="#000" stroke-width="1"/>
<polygon points="894.5,431.5 890.8,429.55 890.8,433.45" fill="#000" />
<polyline points="939.5,431.5 974.5,431.5 974.5,459.5" fill="none" stroke="#000" stroke-width="1"/>
<polygon points="974.5,459.5 972.55,455.8 976.45,455.8" fill="#000" />
<polygon points="951.8,468.8 997.4,452 997.4,534.3 951.8,515.4" fill="#FFD966" />
<polyline points="997.5,493.5 1023.5,493.5" fill="none" stroke="#000" stroke-width="1"/>
<polygon points="1023.5,493.5 1019.8,491.55 1019.8,495.45" fill="#000" />
<polyline points="1003.5,493.5 1003.5,372.5 1023.5,372.5" fill="none" stroke="#555" stroke-width="0.7"/>
<polygon points="1023.5,372.5 1019.8,370.55 1019.8,374.45" fill="#000" />
<use href="#warp2" x="1023.6" y="334.2" width="57.3" height="75.8"/>
<text x="1045.3" y="422.5" font-size="16" font-family='"Liberation Sans", "DejaVu Sans", sans-serif' fill="#000" textLength="9.7" lengthAdjust="spacingAndGlyphs">C</text>
<text x="1055" y="425" font-size="9.8" font-family='"Liberation Sans", "DejaVu Sans", sans-serif' fill="#000" textLength="6.7" lengthAdjust="spacingAndGlyphs">ft</text>
<use href="#cm" x="1023.6" y="454.9" width="57.3" height="76.4"/>
<text x="1043.65" y="545.2" font-size="16" font-family='"Liberation Sans", "DejaVu Sans", sans-serif' fill="#000" textLength="9.7" lengthAdjust="spacingAndGlyphs">C</text>
<text x="1053.35" y="547.7" font-size="9.8" font-family='"Liberation Sans", "DejaVu Sans", sans-serif' fill="#000" textLength="8.4" lengthAdjust="spacingAndGlyphs">m</text>
<polyline points="1080.5,372.5 1113.5,372.5 1113.5,487.5" fill="none" stroke="#555" stroke-width="0.7"/>
<polygon points="1113.5,487.5 1111.55,483.8 1115.45,483.8" fill="#000" />
<polyline points="1080.5,493.5 1107.5,493.5" fill="none" stroke="#000" stroke-width="1"/>
<polygon points="1107.5,493.5 1103.8,491.55 1103.8,495.45" fill="#000" />
<circle cx="1113.7" cy="493" r="6.2" fill="#fff" stroke="#333" stroke-width="0.6" stroke-dasharray="2 0.9 0.6 0.9"/>
<path d="M1110.7,490 L1116.7,496 M1110.7,496 L1116.7,490" stroke="#000" stroke-width="1.3" fill="none"/>
<polyline points="1120.5,493.5 1145.5,493.5" fill="none" stroke="#000" stroke-width="1"/>
<polygon points="1145.5,493.5 1141.8,491.55 1141.8,495.45" fill="#000" />
<use href="#warp2" x="1145.7" y="454.9" width="57.3" height="76.4"/>
<text x="1167.6" y="545.2" font-size="16" font-family='"Liberation Sans", "DejaVu Sans", sans-serif' fill="#000" textLength="9.7" lengthAdjust="spacingAndGlyphs">C</text>
<text x="1177.3" y="547.7" font-size="9.8" font-family='"Liberation Sans", "DejaVu Sans", sans-serif' fill="#000" textLength="7.5" lengthAdjust="spacingAndGlyphs">w</text>
<polyline points="666.5,463.5 666.5,556.5 1113.5,556.5 1113.5,499.5" fill="none" stroke="#222" stroke-width="0.9"/>
<polygon points="1113.5,499.5 1111.55,503.2 1115.45,503.2" fill="#000" />
<use href="#floral" x="23.2" y="608.2" width="57.8" height="77.1"/>
<use href="#person" x="23.6" y="708.9" width="56.5" height="75.6"/>
<text x="49.8" y="801.3" font-size="16" font-family='"Liberation Sans", "DejaVu Sans", sans-serif' fill="#000" textLength="4.4" lengthAdjust="spacingAndGlyphs">I</text>
<polyline points="80.5,645.5 87.5,645.5 87.5,746.5 80.5,746.5" fill="none" stroke="#000" stroke-width="1.4"/>
<polyline points="87.5,702.5 126.5,702.5" fill="none" stroke="#b5ab90" stroke-width="0.6"/>
<polygon points="126.5,702.5 122.8,700.55 122.8,704.45" fill="#000" />
<polygon points="126.5,630.9 205.8,659.9 205.8,744.3 126.5,774.5" fill="#FFD966" />
<text x="166.1" y="698.2" font-size="13.2" text-anchor="middle" font-family='"Liberation Sans", "DejaVu Sans", sans-serif' fill="#1c1508" textLength="68" lengthAdjust="spacingAndGlyphs" >Pre-trained</text>
<text x="166.1" y="716.6" font-size="13.2" text-anchor="middle" font-family='"Liberation Sans", "DejaVu Sans", sans-serif' fill="#1c1508" textLength="47" lengthAdjust="spacingAndGlyphs" >Teacher</text>
<polyline points="205.5,702.5 250.5,702.5" fill="none" stroke="#b5ab90" stroke-width="0.6"/>
<polygon points="250.5,702.5 246.8,700.55 246.8,704.45" fill="#000" />
<use href="#personF" x="251.1" y="663.9" width="57" height="77.7"/>
<use href="#personF" x="346.1" y="625.6" width="57.1" height="76.4"/>
<use href="#cloth" x="346.1" y="728.8" width="57.1" height="76.6"/>
<text x="370.15" y="824.6" font-size="16" font-family='"Liberation Sans", "DejaVu Sans", sans-serif' fill="#000" textLength="9.7" lengthAdjust="spacingAndGlyphs">C</text>
<polyline points="403.5,664.5 425.5,664.5" fill="none" stroke="#444" stroke-width="0.7"/>
<polygon points="425.5,664.5 421.8,662.55 421.8,666.45" fill="#000" />
<polyline points="403.5,767.5 425.5,767.5" fill="none" stroke="#222" stroke-width="0.9"/>
<polygon points="425.5,767.5 421.8,765.55 421.8,769.45" fill="#000" />
<polygon points="425.9,623 472,639 472,688.6 425.9,705.5" fill="#FFD966" />
<polygon points="425.9,725.3 472,742.2 472,791 425.9,808" fill="#FFD966" />
<polyline points="472.5,673.5 502.5,673.5" fill="none" stroke="#aaa" stroke-width="0.5"/>
<polyline points="502.5,673.5 502.5,698.5" fill="none" stroke="#333" stroke-width="0.8"/>
<polygon points="502.5,698.5 500.55,694.8 504.45,694.8" fill="#000" />
<polyline points="472.5,767.5 502.5,767.5 502.5,736.5" fill="none" stroke="#222" stroke-width="0.9"/>
<polygon points="502.5,736.5 500.55,740.2 504.45,740.2" fill="#000" />
<polygon points="480.2,716.9 502.6,697.9 525,716.9 502.6,735.9" fill="#7F7F7F" />
<polyline points="525.5,716.5 539.5,716.5" fill="none" stroke="#555" stroke-width="0.7"/>
<polygon points="539.5,716.5 535.8,714.55 535.8,718.45" fill="#000" />
<polygon points="539.8,675.2 585.9,691.8 585.9,742.2 539.8,758.3" fill="#FFD966" />
<polyline points="585.5,716.5 613.5,716.5" fill="none" stroke="#6a6a6a" stroke-width="0.6"/>
<polygon points="613.5,716.5 609.8,714.55 609.8,718.45" fill="#000" />
<text x="623" y="723.2" font-size="21" font-family='"DejaVu Sans", "Liberation Sans", sans-serif' fill="#000" textLength="10.4" lengthAdjust="spacingAndGlyphs">θ</text>
<polyline points="641.5,716.5 670.5,716.5" fill="none" stroke="#6a6a6a" stroke-width="0.6"/>
<polygon points="670.5,716.5 666.8,714.55 666.8,718.45" fill="#000" />
<path d="M670.2,700.6 C685.47,706.84 700.73,693.42 716,699.66 L716,734.72 C700.73,728.48 685.47,740.65 670.2,734.41 Z" fill="#4472C4"/>
<text x="693.1" y="720.28" font-size="8" text-anchor="middle" font-family='"Liberation Sans", "DejaVu Sans", sans-serif' fill="#fff" textLength="12.6" lengthAdjust="spacingAndGlyphs" >TPS</text>
<polyline points="716.5,716.5 722.5,716.5 722.5,767.5" fill="none" stroke="#000" stroke-width="1"/>
<polygon points="744.4,767.6 740.7,765.65 740.7,769.55" fill="#000" />
<polyline points="374.5,826.5 374.5,837.5 693.5,837.5" fill="none" stroke="#111" stroke-width="1.1"/>
<polyline points="693.5,837.5 693.5,737.5" fill="none" stroke="#666" stroke-width="0.7"/>
<polygon points="693.5,737.5 691.55,741.2 695.45,741.2" fill="#000" />
<use href="#personF" x="745.2" y="617" width="57.6" height="77"/>
<use href="#warpS" x="745.2" y="729.2" width="57.6" height="77.2"/>
<text x="764.25" y="824.6" font-size="16" font-family='"Liberation Sans", "DejaVu Sans", sans-serif' fill="#000" textLength="9.7" lengthAdjust="spacingAndGlyphs">C</text>
<text x="773.95" y="827.1" font-size="9.8" font-family='"Liberation Sans", "DejaVu Sans", sans-serif' fill="#000" textLength="9" lengthAdjust="spacingAndGlyphs">pt</text>
<polyline points="802.5,655.5 813.5,655.5 813.5,767.5" fill="none" stroke="#000" stroke-width="1"/>
<polyline points="813.5,716.5 828.5,716.5" fill="none" stroke="#000" stroke-width="1"/>
<polygon points="828.5,716.5 824.8,714.55 824.8,718.45" fill="#000" />
<clipPath id="c3"><polygon points="828.3,674.6 874.6,691.2 874.6,740.8 828.3,757.7"/></clipPath>
<g clip-path="url(#c3)">
<rect x="828.3" y="673.6" width="12.1" height="85.1" fill="#FFD966"/>
<rect x="840.4" y="673.6" width="6.7" height="85.1" fill="#9DC3E6"/>
<rect x="847.1" y="673.6" width="7.5" height="85.1" fill="#FFD966"/>
<rect x="854.6" y="673.6" width="7.2" height="85.1" fill="#9DC3E6"/>
<rect x="861.8" y="673.6" width="12.8" height="85.1" fill="#FFD966"/>
</g>
<text x="843.25" y="718.08" font-size="5" text-anchor="middle" font-family='"Liberation Sans", "DejaVu Sans", sans-serif' fill="#333" >SA</text>
<text x="857.7" y="718.08" font-size="5" text-anchor="middle" font-family='"Liberation Sans", "DejaVu Sans", sans-serif' fill="#333" >SA</text>
<polyline points="851.5,683.5 851.5,659.5 949.5,659.5" fill="none" stroke="#000" stroke-width="1"/>
<polygon points="949.5,659.5 945.8,657.55 945.8,661.45" fill="#000" />
<circle cx="963" cy="659" r="13.4" fill="#9DC3E6" stroke="#4a6fa0" stroke-width="0.8"/>
<text x="963" y="663.61" font-size="12.8" text-anchor="middle" font-family='"Liberation Sans", "DejaVu Sans", sans-serif' fill="#1a1a1a" >A</text>
<polyline points="976.5,659.5 1005.5,659.5 1005.5,682.5" fill="none" stroke="#000" stroke-width="1"/>
<polygon points="1005.5,682.5 1003.55,678.8 1007.45,678.8" fill="#000" />
<polyline points="874.5,716.5 900.5,716.5" fill="none" stroke="#000" stroke-width="1"/>
<polygon points="900.5,716.5 896.8,714.55 896.8,718.45" fill="#000" />
<rect x="900.1" y="695.2" width="56.5" height="42.4" rx="4.5" fill="#9DC3E6" stroke="#4a6fa0" stroke-width="0.8"/>
<text x="928.35" y="721.98" font-size="15.5" text-anchor="middle" font-family='"Liberation Sans", "DejaVu Sans", sans-serif' fill="#1a1a1a" textLength="38.42" lengthAdjust="spacingAndGlyphs" >MHSA</text>
<polyline points="956.5,716.5 982.5,716.5" fill="none" stroke="#000" stroke-width="1"/>
<polygon points="982.5,716.5 978.8,714.55 978.8,718.45" fill="#000" />
<clipPath id="c4"><polygon points="982.6,690.7 1028.9,674.6 1028.9,758.2 982.6,740.8"/></clipPath>
<g clip-path="url(#c4)">
<rect x="982.6" y="673.6" width="12.6" height="85.6" fill="#FFD966"/>
<rect x="995.2" y="673.6" width="7" height="85.6" fill="#9DC3E6"/>
<rect x="1002.2" y="673.6" width="7.7" height="85.6" fill="#FFD966"/>
<rect x="1009.9" y="673.6" width="6.7" height="85.6" fill="#9DC3E6"/>
<rect x="1016.6" y="673.6" width="12.3" height="85.6" fill="#FFD966"/>
</g>
<text x="998.2" y="718.08" font-size="5" text-anchor="middle" font-family='"Liberation Sans", "DejaVu Sans", sans-serif' fill="#333" >SA</text>
<text x="1012.75" y="718.08" font-size="5" text-anchor="middle" font-family='"Liberation Sans", "DejaVu Sans", sans-serif' fill="#333" >SA</text>
<polyline points="1028.5,716.5 1034.5,716.5" fill="none" stroke="#333" stroke-width="0.8"/>
<polyline points="1034.5,716.5 1034.5,655.5 1065.5,655.5" fill="none" stroke="#555" stroke-width="0.7"/>
<polygon points="1065.5,655.5 1061.8,653.55 1061.8,657.45" fill="#000" />
<polyline points="1034.5,716.5 1034.5,766.5 1065.5,766.5" fill="none" stroke="#222" stroke-width="0.9"/>
<polygon points="1065.5,766.5 1061.8,764.55 1061.8,768.45" fill="#000" />
<use href="#person" x="1065.7" y="616.7" width="57" height="76.6"/>
<use href="#mask" x="1065.3" y="727.9" width="57.7" height="77"/>
<polyline points="1122.5,655.5 1156.5,655.5 1156.5,759.5" fill="none" stroke="#6a6a6a" stroke-width="0.6"/>
<polygon points="1156.5,759.5 1154.55,755.8 1158.45,755.8" fill="#000" />
<polyline points="1122.5,766.5 1149.5,766.5" fill="none" stroke="#000" stroke-width="1"/>
<polygon points="1149.5,766.5 1145.8,764.55 1145.8,768.45" fill="#000" />
<circle cx="1156" cy="766.2" r="6.2" fill="#fff" stroke="#333" stroke-width="0.6" stroke-dasharray="2 0.9 0.6 0.9"/>
<path d="M1153,763.2 L1159,769.2 M1153,769.2 L1159,763.2" stroke="#000" stroke-width="1.3" fill="none"/>
<polyline points="1162.5,766.5 1187.5,766.5" fill="none" stroke="#000" stroke-width="1"/>
<polygon points="1187.5,766.5 1183.8,764.55 1183.8,768.45" fill="#000" />
<use href="#person" x="1187.4" y="727.9" width="57.7" height="77"/>
<polyline points="773.5,828.5 773.5,836.5 1155.5,836.5 1155.5,772.5" fill="none" stroke="#555" stroke-width="0.7"/>
<polygon points="1155.5,772.5 1153.55,776.2 1157.45,776.2" fill="#000" />
<text x="1088" y="711.4" font-size="17.5" font-family='"Liberation Serif", "DejaVu Serif", serif' fill="#111">I</text>
<text x="1094.43" y="703.85" font-size="12" font-family='"Liberation Serif", "DejaVu Serif", serif' fill="#111">′</text>
<text x="1093.23" y="714.9" font-size="11.5" font-family='"Liberation Serif", "DejaVu Serif", serif' fill="#111">s</text>
<text x="1085.3" y="822.7" font-size="17.5" font-family='"Liberation Serif", "DejaVu Serif", serif' fill="#111">I</text>
<text x="1091.73" y="815.15" font-size="12" font-family='"Liberation Serif", "DejaVu Serif", serif' fill="#111">′</text>
<text x="1090.53" y="826.2" font-size="11.5" font-family='"Liberation Serif", "DejaVu Serif", serif' fill="#111">m</text>
<text x="1210.3" y="822.7" font-size="17.5" font-family='"Liberation Serif", "DejaVu Serif", serif' fill="#111">I</text>
<text x="1216.73" y="815.15" font-size="12" font-family='"Liberation Serif", "DejaVu Serif", serif' fill="#111">′</text>
<text x="1215.53" y="826.2" font-size="11.5" font-family='"Liberation Serif", "DejaVu Serif", serif' fill="#111">f</text>
<text x="41" y="701.6" font-size="17.3" font-family='"Liberation Serif", "DejaVu Serif", serif' fill="#111" textLength="9.2" lengthAdjust="spacingAndGlyphs">C</text>
<text x="50.8" y="692.48" font-size="12" font-family='"Liberation Serif", "DejaVu Serif", serif' fill="#111">′</text>
<text x="271.6" y="769.7" font-size="17.5" font-family='"Liberation Serif", "DejaVu Serif", serif' fill="#111">I</text>
<text x="278.03" y="760.75" font-size="12" font-family='"Liberation Serif", "DejaVu Serif", serif' fill="#111">′</text>
<text x="367.2" y="722" font-size="17.5" font-family='"Liberation Serif", "DejaVu Serif", serif' fill="#111">I</text>
<text x="373.63" y="713.05" font-size="12" font-family='"Liberation Serif", "DejaVu Serif", serif' fill="#111">′</text>
<text x="765.2" y="714" font-size="17.5" font-family='"Liberation Serif", "DejaVu Serif", serif' fill="#111">I</text>
<text x="771.63" y="705.05" font-size="12" font-family='"Liberation Serif", "DejaVu Serif", serif' fill="#111">′</text>
<polygon points="52.9,849.4 85.4,860.4 85.4,895.6 52.9,906.6" fill="#FFD966" />
<text x="143.6" y="873.1" font-size="12.8" text-anchor="middle" font-family='"Liberation Sans", "DejaVu Sans", sans-serif' fill="#222" textLength="83" lengthAdjust="spacingAndGlyphs" >Down Sample</text>
<text x="143.6" y="890.6" font-size="12.8" text-anchor="middle" font-family='"Liberation Sans", "DejaVu Sans", sans-serif' fill="#222" textLength="38" lengthAdjust="spacingAndGlyphs" >Layers</text>
<polygon points="201.9,860.4 233.8,849.4 233.8,906.6 201.9,895.6" fill="#FFD966" />
<text x="281.8" y="873.1" font-size="12.8" text-anchor="middle" font-family='"Liberation Sans", "DejaVu Sans", sans-serif' fill="#222" textLength="64.6" lengthAdjust="spacingAndGlyphs" >Up Sample</text>
<text x="281.8" y="890.6" font-size="12.8" text-anchor="middle" font-family='"Liberation Sans", "DejaVu Sans", sans-serif' fill="#222" textLength="38" lengthAdjust="spacingAndGlyphs" >Layers</text>
<polygon points="340.3,877.9 356.7,862 373.1,877.9 356.7,893.8" fill="#7F7F7F" />
<text x="421" y="873.1" font-size="12.8" text-anchor="middle" font-family='"Liberation Sans", "DejaVu Sans", sans-serif' fill="#222" textLength="68.4" lengthAdjust="spacingAndGlyphs" >Correlation</text>
<text x="421" y="890.6" font-size="12.8" text-anchor="middle" font-family='"Liberation Sans", "DejaVu Sans", sans-serif' fill="#222" textLength="58" lengthAdjust="spacingAndGlyphs" >Matching</text>
<path d="M479.6,864.84 C490.43,869.73 501.27,859.21 512.1,864.1 L512.1,891.57 C501.27,886.68 490.43,896.22 479.6,891.33 Z" fill="#4472C4"/>
<text x="495.85" y="880.7" font-size="7.5" text-anchor="middle" font-family='"Liberation Sans", "DejaVu Sans", sans-serif' fill="#fff" textLength="12" lengthAdjust="spacingAndGlyphs" >TPS</text>
<text x="564" y="882.2" font-size="12.8" text-anchor="middle" font-family='"Liberation Sans", "DejaVu Sans", sans-serif' fill="#222" textLength="77" lengthAdjust="spacingAndGlyphs" >TPS Warping</text>
<circle cx="631.7" cy="878.2" r="9.8" fill="#fff" stroke="#333" stroke-width="0.6" stroke-dasharray="2 0.9 0.6 0.9"/>
<path d="M627.1,873.6 L636.3,882.8 M627.1,882.8 L636.3,873.6" stroke="#000" stroke-width="1.8" fill="none"/>
<text x="721.2" y="871.5" font-size="12.8" text-anchor="middle" font-family='"Liberation Sans", "DejaVu Sans", sans-serif' fill="#222" textLength="125.6" lengthAdjust="spacingAndGlyphs" >Element-wise matrix</text>
<text x="721.4" y="888.9" font-size="12.8" text-anchor="middle" font-family='"Liberation Sans", "DejaVu Sans", sans-serif' fill="#222" textLength="83.8" lengthAdjust="spacingAndGlyphs" >multiplication</text>
<circle cx="815.9" cy="877.8" r="13.8" fill="#9DC3E6" stroke="#4a6fa0" stroke-width="0.8"/>
<text x="815.9" y="882.41" font-size="12.8" text-anchor="middle" font-family='"Liberation Sans", "DejaVu Sans", sans-serif' fill="#1a1a1a" >A</text>
<text x="876.8" y="882.2" font-size="12.8" text-anchor="middle" font-family='"Liberation Sans", "DejaVu Sans", sans-serif' fill="#222" textLength="88.4" lengthAdjust="spacingAndGlyphs" >Attention gate</text>
<polygon points="935.4,841 962.9,856.4 962.9,899 935.4,913.3" fill="#9DC3E6" />
<text x="948.8" y="882.2" font-size="12.8" text-anchor="middle" font-family='"Liberation Sans", "DejaVu Sans", sans-serif' fill="#222" textLength="16.5" lengthAdjust="spacingAndGlyphs" >SA</text>
<text x="1010.1" y="882.2" font-size="12.8" text-anchor="middle" font-family='"Liberation Sans", "DejaVu Sans", sans-serif' fill="#222" textLength="83" lengthAdjust="spacingAndGlyphs" >Self-attention</text>
<rect x="1067.7" y="856" width="58.3" height="43.6" rx="6" fill="#9DC3E6" stroke="#4a6fa0" stroke-width="0.8"/>
<text x="1096.85" y="882.59" font-size="13.3" text-anchor="middle" font-family='"Liberation Sans", "DejaVu Sans", sans-serif' fill="#1a1a1a" textLength="39.64" lengthAdjust="spacingAndGlyphs" >MHSA</text>
<text x="1172.7" y="873.1" font-size="12.8" text-anchor="middle" font-family='"Liberation Sans", "DejaVu Sans", sans-serif' fill="#222" textLength="68" lengthAdjust="spacingAndGlyphs" >Multi-head</text>
<text x="1172.8" y="890.6" font-size="12.8" text-anchor="middle" font-family='"Liberation Sans", "DejaVu Sans", sans-serif' fill="#222" textLength="83.7" lengthAdjust="spacingAndGlyphs" >Slef-attention</text>
</svg></body></html>
